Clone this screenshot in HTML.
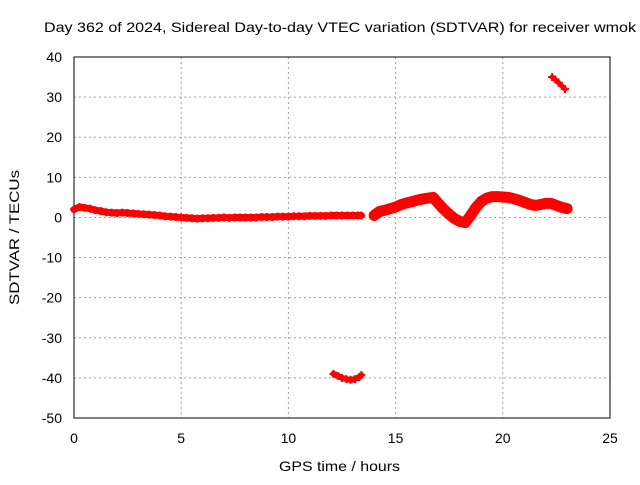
<!DOCTYPE html>
<html><head><meta charset="utf-8"><style>
body{margin:0;background:#fff;width:640px;height:480px;overflow:hidden}
svg{font-family:"Liberation Sans",sans-serif;font-size:14px}
</style></head><body>
<svg id="c" width="640" height="480"></svg>
<script>
const xTicks=[0,5,10,15,20,25];
const yTicks=[40,30,20,10,0,-10,-20,-30,-40,-50];
const mainTimes=[0,0.25,0.5,0.75,1,1.25,1.5,1.75,2,2.25,2.5,2.75,3,3.25,3.5,3.75,4,4.25,4.5,4.75,5,5.25,5.5,5.75,6,6.25,6.5,6.75,7,7.25,7.5,7.75,8,8.25,8.5,8.75,9,9.25,9.5,9.75,10,10.25,10.5,10.75,11,11.25,11.5,11.75,12,12.25,12.5,12.75,13,13.25,13.4];
const mainValues=[2,2.6,2.4,2.2,1.8,1.6,1.3,1.2,1.1,1.2,1.1,1,0.9,0.8,0.7,0.6,0.5,0.3,0.2,0.1,0,-0.1,-0.2,-0.3,-0.2,-0.2,-0.1,-0.1,0,-0.1,0,0,0,0,0,0.1,0.1,0.1,0.2,0.2,0.2,0.3,0.3,0.3,0.4,0.4,0.4,0.4,0.5,0.5,0.5,0.5,0.5,0.5,0.5];
const lateTimes=[14,14.25,14.5,14.75,15,15.25,15.5,15.75,16,16.25,16.5,16.75,17,17.25,17.5,17.75,18,18.25,18.5,18.75,19,19.25,19.5,19.75,20,20.25,20.5,20.75,21,21.25,21.5,21.75,22,22.25,22.5,22.75,23];
const lateValues=[0.5,1.5,1.8,2.2,2.6,3.2,3.6,3.9,4.3,4.6,4.8,5,3.5,2,0.8,-0.3,-1,-1.3,0.5,2.5,4,4.8,5.2,5.2,5.1,5,4.7,4.3,3.8,3.3,3,3.2,3.5,3.5,3,2.5,2.2];
const lowTimes=[12.1,12.3,12.5,12.7,12.9,13.1,13.3,13.4];
const lowValues=[-39,-39.5,-40,-40.3,-40.5,-40.3,-39.8,-39.3];
const highTimes=[22.3,22.45,22.6,22.75,22.9];
const highValues=[35,34.4,33.6,32.8,32];
const X=t=>74+t*(610-74)/25;
const Y=v=>57+(40-v)*(418-57)/90;
const S="http://www.w3.org/2000/svg",svg=document.getElementById('c');
function el(tag,a,txt){const e=document.createElementNS(S,tag);for(const k in a)e.setAttribute(k,a[k]);if(txt!==undefined)e.textContent=txt;svg.appendChild(e);return e;}
xTicks.forEach(t=>{
 if(t>0&&t<25){const g=el('line',{x1:X(t),x2:X(t),y1:57,y2:418,stroke:'#a0a0a0','stroke-dasharray':'2,3'});
 
 }
 const l=el('text',{x:X(t),y:443,'text-anchor':'middle'},t);
 
 
});
yTicks.forEach(v=>{
 if(v<40&&v>-50){const g=el('line',{x1:74,x2:610,y1:Y(v),y2:Y(v),stroke:'#a0a0a0','stroke-dasharray':'2,3'});
 
 }
 const l=el('text',{x:62,y:Y(v)+5,'text-anchor':'end'},v);
 
 
});
const f=el('rect',{x:74,y:57,width:536,height:361,fill:'none',stroke:'#000'});


function series(ts,vs,name,w){
 const p=el('polyline',{points:ts.map((t,i)=>X(t)+','+Y(vs[i])).join(' '),fill:'none',stroke:'#f00','stroke-width':w,'stroke-linejoin':'round','stroke-linecap':'round'});
 
 
 ts.forEach((t,i)=>{const m=el('path',{d:`M${X(t)-4},${Y(vs[i])}h8M${X(t)},${Y(vs[i])-4}v8`,stroke:'#f00','stroke-width':2});
 
 });
}
series(mainTimes,mainValues,'sdtvar-main-series',7);
series(lateTimes,lateValues,'sdtvar-late-series',11);
series(lowTimes,lowValues,'sdtvar-low-outliers',6);
series(highTimes,highValues,'sdtvar-high-outliers',5);
const t=el('text',{x:44,y:32,textLength:592,lengthAdjust:'spacingAndGlyphs'},'Day 362 of 2024, Sidereal Day-to-day VTEC variation (SDTVAR) for receiver wmok');


const xl=el('text',{x:279,y:471,textLength:121,lengthAdjust:'spacingAndGlyphs'},'GPS time / hours');


const yl=el('text',{x:19,y:305,textLength:135,lengthAdjust:'spacingAndGlyphs',transform:'rotate(-90 19 305)'},'SDTVAR / TECUs');


</script>
</body></html>
